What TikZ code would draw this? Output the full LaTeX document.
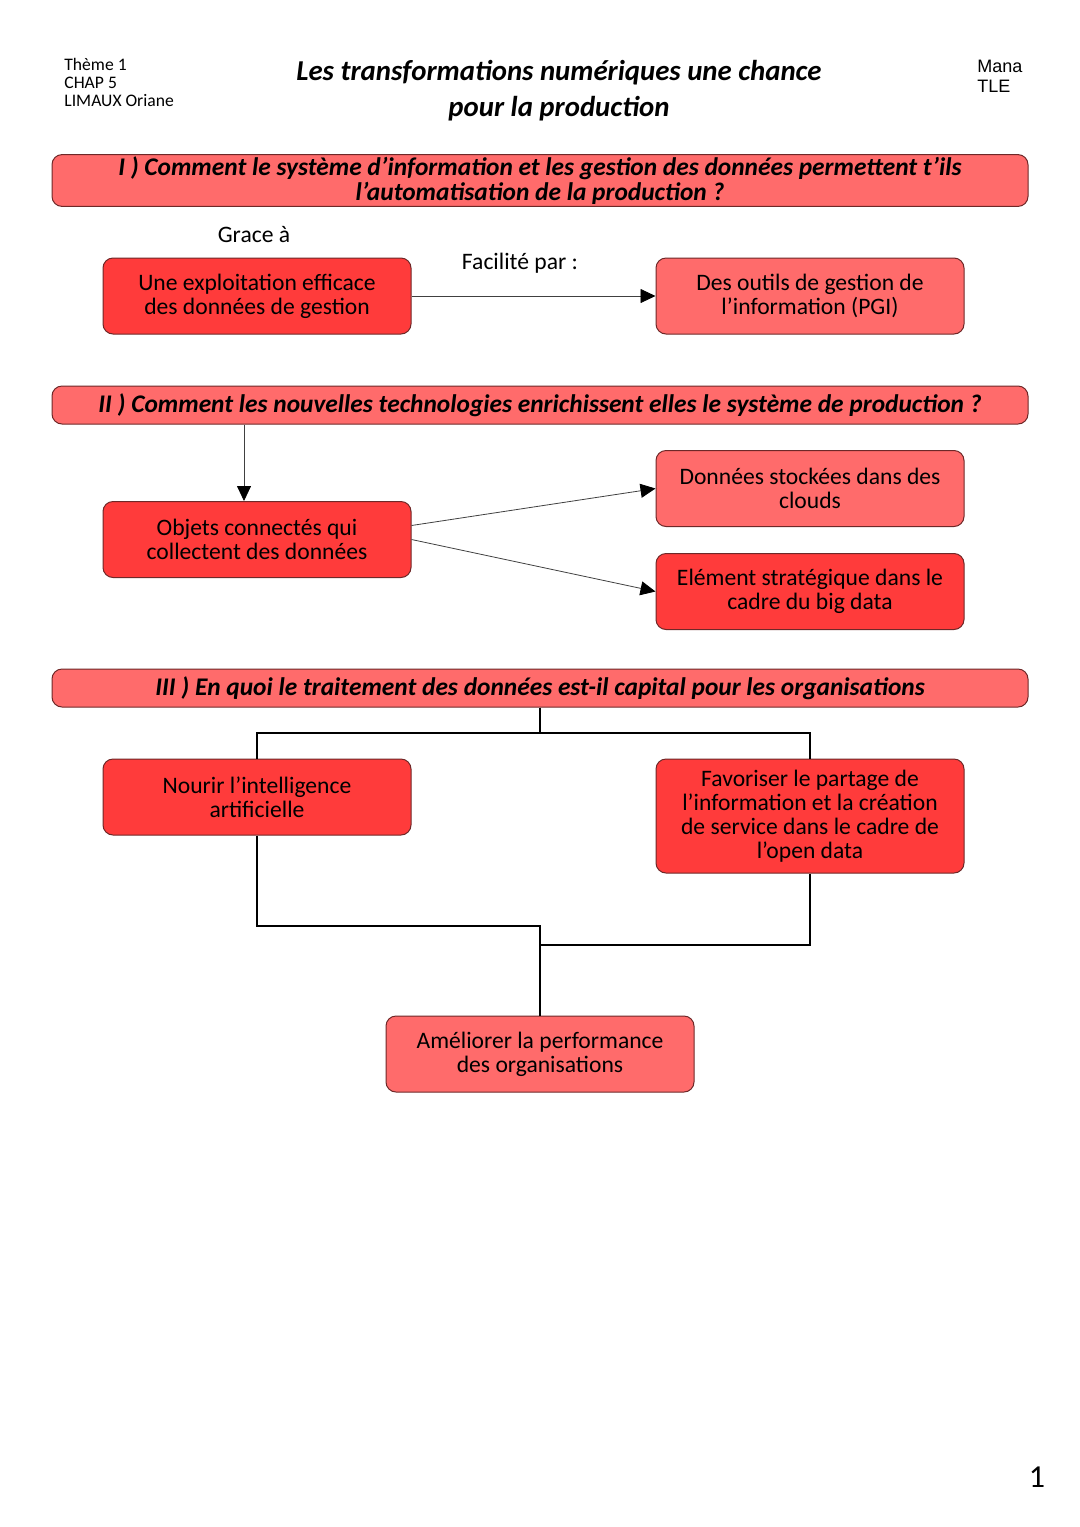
\documentclass[tikz,border=0pt]{standalone}
\usepackage{fontspec}
\setmainfont{Carlito}
\newfontfamily\arialfont{Liberation Sans}
\usetikzlibrary{arrows.meta,positioning}
\definecolor{salmon}{RGB}{255,107,107}
\definecolor{vivid}{RGB}{255,59,59}
\definecolor{rim}{RGB}{110,40,40}

\tikzset{
  box/.style={rectangle,rounded corners=5pt,draw=rim,line width=0.5pt,
    minimum width=154pt,minimum height=38pt,align=center,
    font=\fontsize{11.8}{12}\selectfont},
  redbox/.style={box,fill=vivid},
  pinkbox/.style={box,fill=salmon},
  part/.style={rectangle,rounded corners=5pt,draw=rim,line width=0.5pt,fill=salmon,
    minimum width=488pt,minimum height=19pt,align=center,
    font=\fontsize{12.7}{12.5}\selectfont\bfseries\itshape},
  arr/.style={-{Triangle[length=7.5pt,width=7pt,color=black]},draw=black!75,line width=0.4pt},
  link/.style={draw=black,line width=1pt},
}

\begin{document}
\begin{tikzpicture}[x=0.5pt,y=-0.5pt]
  \useasboundingbox (0,0) rectangle (1080,1527);

  % en-tete
  \node[anchor=north west,inner sep=0pt,align=left,font=\fontsize{8.8}{9}\selectfont] (head) at (64,58)
    {Thème 1\\CHAP 5\\LIMAUX Oriane};
  \node[align=center,font=\fontsize{14.4}{18}\selectfont\bfseries\itshape] (title) at (559,91)
    {Les transformations numériques une chance\\pour la production};
  \node[anchor=north west,inner sep=0pt,align=left,font=\arialfont\fontsize{9}{10}\selectfont] (name) at (977,60)
    {Mana\\TLE};

  % partie I
  \node[part,minimum height=25.5pt,inner sep=1pt] (secI) at (540,180.5)
    {I ) Comment le système d’information et les gestion des données permettent t’ils\\l’automatisation de la production ?};
  \node[redbox]  (A) at (257,296) {Une exploitation efficace\\des données de gestion};
  \node[pinkbox] (B) at (810,296) {Des outils de gestion de\\l’information (PGI)};
  \node[font=\fontsize{11.8}{12}\selectfont] (grace) at (254,235) {Grace à};
  \node[font=\fontsize{11.8}{12}\selectfont] (facil) at (520,263) {Facilité par :};
  \draw[arr] (A) -- (B);

  % partie II
  \node[part] (secII) at (540,405)
    {II ) Comment les nouvelles technologies enrichissent elles le système de production ?};
  \node[redbox]  (C) at (257,539.5) {Objets connectés qui\\collectent des données};
  \node[pinkbox] (D) at (810,488.5) {Données stockées dans des\\clouds};
  \node[redbox]  (E) [below=13pt of D] {Elément stratégique dans le\\cadre du big data};
  \draw[arr] ([xshift=-6.5pt]C.north |- secII.south) -- ([xshift=-6.5pt]C.north);
  \draw[arr] ([yshift=7pt]C.east) -- (D.west);
  \draw[arr] (C.east) -- (E.west);

  % partie III
  \node[part] (secIII) at (540,688)
    {III ) En quoi le traitement des données est-il capital pour les organisations};
  \node[redbox]  (F) at (257,797) {Nourir l’intelligence\\artificielle};
  \node[redbox,minimum height=57pt] (G) at (810,816)
    {Favoriser le partage de\\l’information et la création\\de service dans le cadre de\\l’open data};
  \node[pinkbox] (H) at (540,1054) {Améliorer la performance\\des organisations};
  \draw[link] (secIII.south) -- ++(0,25) -| (F.north);
  \draw[link] (secIII.south) -- ++(0,25) -| (G.north);
  \draw[link] (F.south) -- ++(0,90) -| (H.north);
  \draw[link] (G.south) -- ++(0,71) -| (H.north);

  \node[font=\fontsize{16}{16}\selectfont] (page) at (1037,1477) {1};
\end{tikzpicture}
\end{document}
